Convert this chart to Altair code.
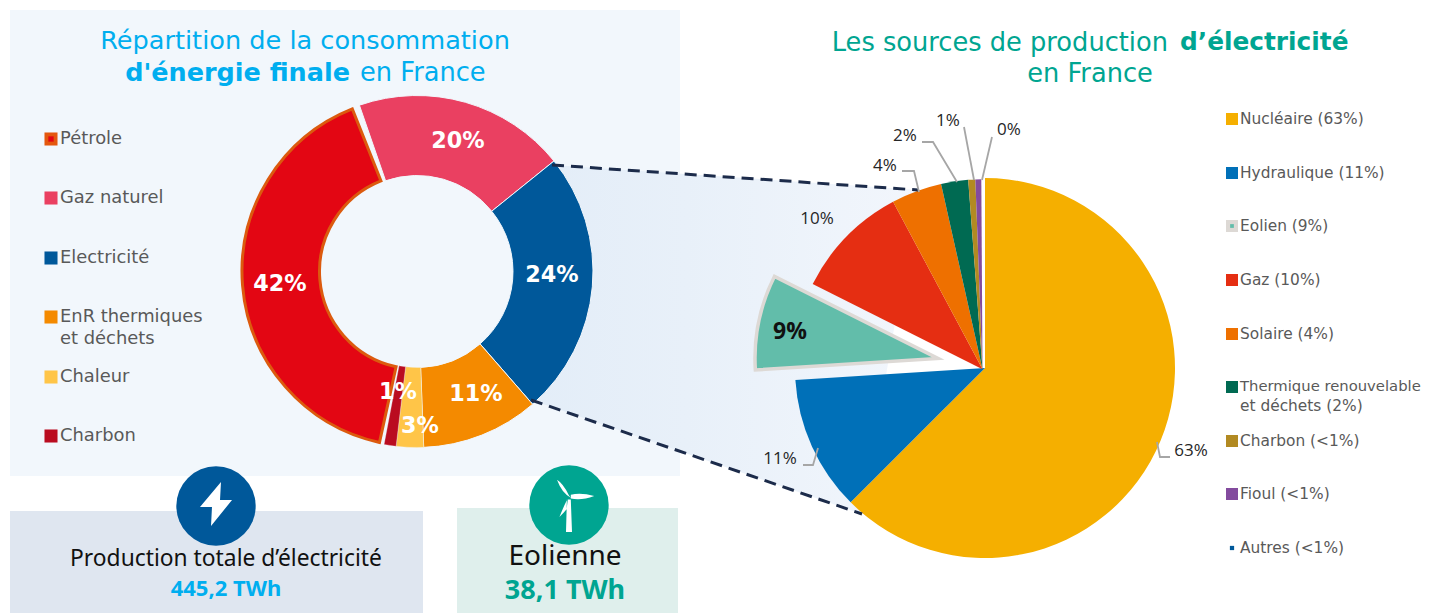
import altair as alt
import pandas as pd

W, H = 1414, 605
XS = alt.Scale(domain=[8, 1422], range=[0, W])
YS = alt.Scale(domain=[613, 8], range=[H, 0])
TS = alt.Scale(domain=[0, 360], range=[0, 6.283185])

# --- data -------------------------------------------------------------
donut_names = ["Gaz naturel", "Electricité", "EnR thermiques", "Chaleur", "Charbon", "Pétrole"]
donut_vals = [19.5, 24.4, 10.8, 2.5, 1.1, 41.7]
donut_cols = ["#EA4061", "#00589A", "#F48A00", "#FFC548", "#BA0C20", "#E30613"]
donut_start = 340.9

pie_names = ["Nucléaire", "Hydraulique", "Eolien", "Gaz", "Solaire", "Thermique", "Charbon", "Fioul", "Autres"]
pie_vals = [62.5, 11.5, 8.4, 9.8, 4.3, 2.3, 0.6, 0.5, 0.1]
pie_cols = ["#F5AF00", "#0070B8", "#62BDAA", "#E52E12", "#EE7000", "#006A52", "#B28A22", "#834B9E", "#FFFFFF"]


def wedges(vals, start):
    total = sum(vals)
    out, a = [], start
    for v in vals:
        b = a + v / total * 360
        out.append((a, b))
        a = b
    return out


d_ang = wedges(donut_vals, donut_start)
p_ang = wedges(pie_vals, 0.0)


def XY(**kw):
    return dict(x=alt.X("x:Q", scale=XS, axis=None), y=alt.Y("y:Q", scale=YS, axis=None), **kw)


def rect(x0, y0, x1, y1, col):
    return alt.Chart(pd.DataFrame({"x": [x0], "y": [y0], "x2": [x1], "y2": [y1]})).mark_rect(color=col).encode(
        x=alt.X("x:Q", scale=XS, axis=None), y=alt.Y("y:Q", scale=YS, axis=None), x2="x2:Q", y2="y2:Q")


def texts(rows, **mk):
    df = pd.DataFrame(rows, columns=["x", "y", "t"])
    mk.setdefault("baseline", "middle")
    return alt.Chart(df).mark_text(**mk).encode(**XY(), text="t:N")


def arcs(ang, cols, cx, cy, r, r2=0, strokes=None, widths=None):
    rows = []
    for (a, b), c in zip(ang, cols):
        rows.append({"x": cx, "y": cy, "a": a, "b": b, "c": c})
    df = pd.DataFrame(rows)
    mk = dict(radius=r, radius2=r2)
    if strokes:
        return alt.layer(*[
            alt.Chart(df.iloc[[i]]).mark_arc(stroke=strokes[i], strokeWidth=widths[i], fill=cols[i], **mk).encode(
                **XY(), theta=alt.Theta("a:Q", scale=TS, stack=False), theta2="b:Q")
            for i in range(len(df))])
    return alt.Chart(df).mark_arc(**mk).encode(
        **XY(), theta=alt.Theta("a:Q", scale=TS, stack=False), theta2="b:Q",
        color=alt.Color("c:N", scale=None))


def squares(rows, size=170, **mk):
    df = pd.DataFrame(rows, columns=["x", "y", "c"])
    return alt.Chart(df).mark_square(size=size, filled=True, opacity=1, **mk).encode(
        **XY(), color=alt.Color("c:N", scale=None))


# --- backgrounds ------------------------------------------------------
panel = rect(10, 10, 680, 476, "#F2F7FC")
box1 = rect(10, 511, 423, 613, "#DFE6F0")
box2 = rect(457, 508, 678, 613, "#DFEFEC")

zoom_x = [531, 552, 862, 918]
zoom_top = [400, 165, 186, 190]
zoom_bot = [400, 407, 514, 190]
zoom_area = alt.Chart(pd.DataFrame({"x": zoom_x, "y": zoom_top, "y2": zoom_bot})).mark_area(
    fill=alt.Gradient(gradient="linear", x1=0, x2=1, y1=0, y2=0,
                      stops=[alt.GradientStop(offset=0, color="#E3EDF8"),
                             alt.GradientStop(offset=0.4, color="#E8F0F9"),
                             alt.GradientStop(offset=1, color="#F2F6FC")])).encode(
    x=alt.X("x:Q", scale=XS, axis=None), y=alt.Y("y:Q", scale=YS, axis=None), y2="y2:Q")

# --- pie --------------------------------------------------------------
pie_a = arcs(p_ang[:2], pie_cols[:2], 985, 368, 190)
pie_b = arcs(p_ang[3:8], pie_cols[3:8], 982.5, 369.3, 190)
pie_exp = arcs([p_ang[2]], [pie_cols[2]], 938, 358.5, 183, 0, ["#DDD9D5"], [3.5])

# --- donut ------------------------------------------------------------
DC = (417, 271.5)
donut_main = arcs(d_ang[:5], donut_cols[:5], DC[0], DC[1], 176, 96,
                  ["#F2F7FC"] * 5, [1, 1, 1, 0.3, 0.3])
pet_a, pet_b = d_ang[5]
donut_pet = arcs([(pet_a + 1.6, pet_b - 2.6)], [donut_cols[5]], DC[0], DC[1], 175, 97.5, ["#DC5A0E"], [3])

# --- dashed connectors ------------------------------------------------
dash_df = pd.DataFrame({"x": [552, 531], "y": [165, 400], "x2": [918, 862], "y2": [190, 514]})
dashes = alt.Chart(dash_df).mark_rule(color="#1C2B4A", strokeWidth=3, strokeDash=[12, 7]).encode(
    x=alt.X("x:Q", scale=XS, axis=None), y=alt.Y("y:Q", scale=YS, axis=None), x2="x2:Q", y2="y2:Q")

# --- leader lines -----------------------------------------------------
lead_g = [0, 0, 0, 1, 1, 1, 2, 2, 3, 3, 4, 4, 4, 5, 5, 5]
lead_x = [902, 914, 919, 922, 933, 957, 964, 974, 992, 982, 1157, 1160, 1170, 803, 813, 818]
lead_y = [171, 171, 192, 142, 142, 182, 127, 180, 137, 180, 442, 457, 457, 465, 465, 448]
leaders = alt.Chart(pd.DataFrame({"x": lead_x, "y": lead_y, "g": lead_g, "o": range(len(lead_g))})).mark_line(
    color="#A6A6A6", strokeWidth=1.8).encode(**XY(), detail="g:N", order="o:Q")

# --- icons ------------------------------------------------------------
circ = alt.Chart(pd.DataFrame({"x": [216, 569], "y": [506, 505], "c": ["#00589A", "#00A591"]})).mark_circle(
    size=6300, opacity=1).encode(**XY(), color=alt.Color("c:N", scale=None))
BOLT = "M0.083 -0.4 L-0.267 0.017 L-0.067 0.017 L-0.083 0.333 L0.267 -0.1 L0.067 -0.1 Z"
bolt = alt.Chart(pd.DataFrame({"x": [216], "y": [506]})).mark_point(
    shape=BOLT, size=14400, filled=True, color="white", opacity=1, strokeWidth=0).encode(**XY())
TURB = ("M0.03 -0.12 Q-0.12 -0.2 -0.2 -0.42 Q-0.1 -0.36 0.0 -0.16 Z "
        "M0.03 -0.17 Q0.2 -0.21 0.42 -0.15 Q0.2 -0.07 0.03 -0.11 Z "
        "M-0.03 -0.09 Q-0.1 0.05 -0.16 0.2 Q-0.08 0.12 -0.04 0.07 L-0.02 -0.09 Z "
        "M-0.035 -0.09 L0.03 -0.09 L0.05 0.45 L-0.05 0.45 Z")
turbine = alt.Chart(pd.DataFrame({"x": [569], "y": [505]})).mark_point(
    shape=TURB, size=14400, filled=True, color="white", opacity=1, strokeWidth=0).encode(**XY())

# --- text -------------------------------------------------------------
SANS = "DejaVu Sans"
UB = "Noto Sans"
CAL = "Open Sans"
BLUE = "#00AEEF"
TEAL = "#00A591"
GREY = "#595959"

title_l1 = texts([(305, 41, "Répartition de la consommation")], font=SANS, fontSize=25.6, color=BLUE, align="center")
title_l2a = texts([(350, 73, "d'énergie finale")], font=SANS, fontSize=25.5, fontWeight="bold", color=BLUE, align="right")
title_l2b = texts([(360, 73, "en France")], font=SANS, fontSize=25.7, color=BLUE, align="left")
title_r1a = texts([(1168, 43, "Les sources de production")], font=SANS, fontSize=25.7, color=TEAL, align="right")
title_r1b = texts([(1180, 43, "d’électricité")], font=SANS, fontSize=24.8, fontWeight="bold", color=TEAL, align="left")
title_r2 = texts([(1090, 74, "en France")], font=SANS, fontSize=25.7, color=TEAL, align="center")

donut_labels = texts([(458, 141, "20%"), (552, 275, "24%"), (476, 394, "11%"), (420, 426, "3%"),
                      (398, 392, "1%"), (280, 284, "42%")],
                     font=SANS, fontSize=22.3, fontWeight="bold", color="white", align="center")
pie_labels = texts([(1191, 451, "63%"), (780, 459, "11%"), (817, 219, "10%"), (885, 166, "4%"),
                    (905, 136, "2%"), (948, 121, "1%"), (1009, 130, "0%")],
                   font=CAL, fontSize=17, color="#262626", align="center")
pie_bold = texts([(790, 332, "9%")], font=CAL, fontSize=23, fontWeight="bold", color="#111111", align="center")

leg_l_sq = squares([(51, 139, "#E4570E"), (51, 198, "#EA4061"), (51, 258, "#00589A"), (51, 317, "#F48A00"),
                    (51, 377, "#FFC548"), (51, 436, "#BA0C20")])
leg_l_in = squares([(51, 139, "#E30613")], size=28)
leg_l_txt = texts([(60, 139, "Pétrole"), (60, 198, "Gaz naturel"), (60, 258, "Electricité"),
                   (60, 317, "EnR thermiques"), (60, 339, "et déchets"), (60, 377, "Chaleur"), (60, 436, "Charbon")],
                  font=SANS, fontSize=17.9, color=GREY, align="left")

leg_r_sq = squares([(1232, 119, "#F5AF00"), (1232, 173, "#0070B8"), (1232, 226, "#DDD9D5"), (1232, 280, "#E52E12"),
                    (1232, 334, "#EE7000"), (1232, 387, "#006A52"), (1232, 441, "#B28A22"), (1232, 494, "#834B9E")],
                   size=144)
leg_r_in = squares([(1232, 226, "#62BDAA")], size=14)
leg_r_small = squares([(1232, 548, "#00589A")], size=18)
leg_r_txt = texts([(1240, 119, "Nucléaire (63%)"), (1240, 173, "Hydraulique (11%)"), (1240, 226, "Eolien (9%)"),
                   (1240, 280, "Gaz (10%)"), (1240, 334, "Solaire (4%)"),
                   (1240, 406, "et déchets (2%)"), (1240, 441, "Charbon (<1%)"), (1240, 494, "Fioul (<1%)"),
                   (1240, 548, "Autres (<1%)")],
                  font=SANS, fontSize=15.4, color=GREY, align="left")
leg_r_long = texts([(1240, 387, "Thermique renouvelable")], font=SANS, fontSize=14.8, color=GREY, align="left")

box_t1 = texts([(226, 559, "Production totale d’électricité")], font=UB, fontSize=22.8, color="#111111", align="center")
box_v1 = texts([(226, 589, "445,2 TWh")], font=UB, fontSize=22, fontWeight="bold", color=BLUE, align="center")
box_t2 = texts([(565, 557, "Eolienne")], font=UB, fontSize=28, color="#111111", align="center")
box_v2 = texts([(565, 591, "38,1 TWh")], font=UB, fontSize=27, fontWeight="bold", color=TEAL, align="center")

chart = alt.layer(
    panel, zoom_area, box1, box2, circ, bolt, turbine,
    pie_a, pie_b, pie_exp, donut_main, donut_pet, dashes, leaders,
    title_l1, title_l2a, title_l2b, title_r1a, title_r1b, title_r2,
    donut_labels, pie_labels, pie_bold,
    leg_l_sq, leg_l_in, leg_l_txt, leg_r_sq, leg_r_in, leg_r_small, leg_r_txt, leg_r_long,
    box_t1, box_v1, box_t2, box_v2,
).properties(width=W, height=H, padding=0, background="white").configure_view(stroke=None)

chart.save("out.html", embed_options={"renderer": "svg", "actions": False})
